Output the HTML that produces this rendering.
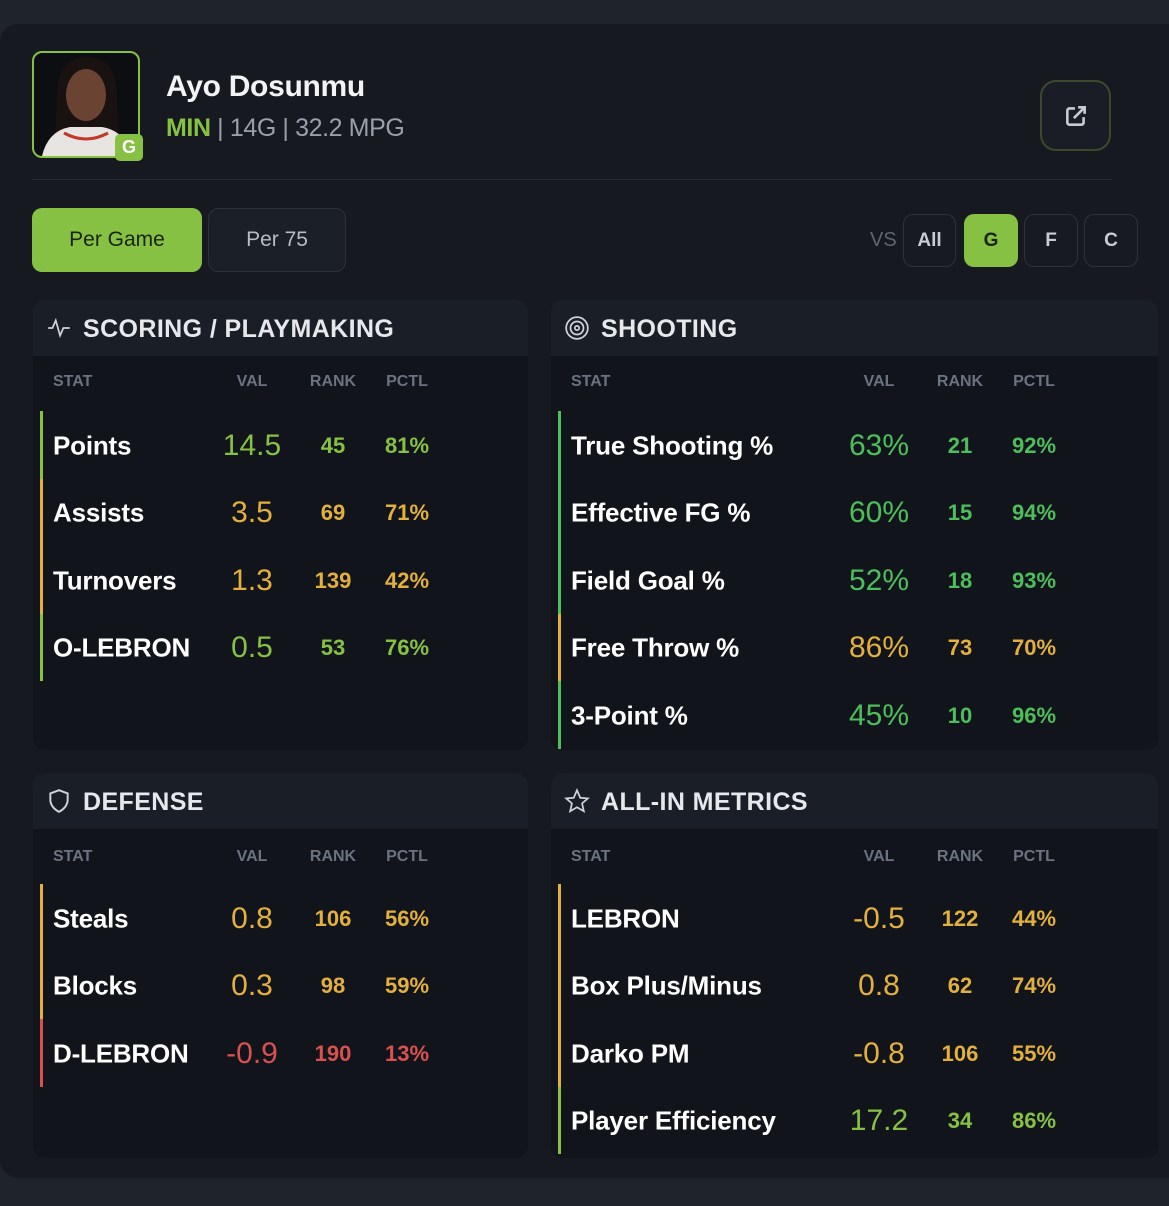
<!DOCTYPE html>
<html><head><meta charset="utf-8">
<style>
*{box-sizing:border-box;margin:0;padding:0}
body{width:1169px;height:1206px;background:#1f232b;font-family:"Liberation Sans",sans-serif;position:relative;overflow:hidden}
.abs{position:absolute}
#card{left:0;top:24px;width:1169px;height:1154px;background:#161920;border-radius:18px 0 0 18px}
.btn{border-radius:10px;display:flex;align-items:center;justify-content:center;font-size:21px}
.panel{background:#11141a;border-radius:12px;overflow:hidden}
.ph{position:absolute;left:0;top:0;right:0;height:56px;background:#1a1e27;color:#e6e8ec;font-weight:bold;font-size:25px;letter-spacing:0.4px;display:flex;align-items:center;padding-left:50px;padding-top:3px}
.ch{position:absolute;font-size:16px;font-weight:bold;color:#6b7280;transform:translateX(-50%)}
.lbl{position:absolute;font-size:26px;font-weight:bold;color:#fff;transform:translateY(-50%);letter-spacing:-0.2px}
.num{position:absolute;transform:translate(-50%,-50%);font-weight:bold;white-space:nowrap}
.bar{position:absolute;width:3px}
</style></head><body>
<div id="card" class="abs"></div>
<div class="abs" style="left:32px;top:51px;width:108px;height:107px;border:2px solid #86c144;border-radius:10px;overflow:hidden;background:#0d0e12">
<svg width="104" height="103" viewBox="0 0 104 103"><path d="M20 103 L24 30 Q30 4 52 4 Q76 4 82 30 L86 103Z" fill="#1a1210"/><ellipse cx="52" cy="42" rx="20" ry="26" fill="#6b4332"/><path d="M8 103 Q14 78 36 74 L68 74 Q92 78 96 103Z" fill="#e8e4e2"/><path d="M30 80 Q52 92 74 80" stroke="#c0392b" stroke-width="3" fill="none"/></svg>
</div>
<div class="abs btn" style="left:115px;top:134px;width:28px;height:27px;background:#86c144;color:#fff;font-weight:bold;font-size:18px;border-radius:5px">G</div>
<div class="abs" style="left:166px;top:70px;font-size:30px;font-weight:bold;color:#f2f3f5;letter-spacing:-0.3px">Ayo Dosunmu</div>
<div class="abs" style="left:166px;top:114px;font-size:25px;color:#9aa0aa;letter-spacing:-0.4px"><span style="color:#86c144;font-weight:bold">MIN</span> | 14G | 32.2 MPG</div>
<div class="abs btn" style="left:1040px;top:80px;width:71px;height:71px;border:2px solid #3b4a2c;border-radius:16px;background:#1a1d25">
<svg width="26" height="26" viewBox="0 0 24 24" fill="none" stroke="#c8ccd2" stroke-width="2.4"><path d="M11 5H6a2 2 0 0 0-2 2v11a2 2 0 0 0 2 2h11a2 2 0 0 0 2-2v-5"/><path d="M10 14L20 4M14 4h6v6"/></svg></div>
<div class="abs" style="left:32px;top:179px;width:1080px;height:1px;background:#272b35"></div>
<div class="abs btn" style="left:32px;top:208px;width:170px;height:64px;background:#86c144;color:#1a2410">Per Game</div>
<div class="abs btn" style="left:208px;top:208px;width:138px;height:64px;background:#1b1f28;border:1px solid #2c313c;color:#b8bcc4">Per 75</div>
<div class="abs" style="left:870px;top:229px;font-size:20px;color:#5f6570">VS</div>
<div class="abs btn" style="left:903px;top:214px;width:53px;height:53px;border:1px solid #2c313c;background:#171a21;color:#c8ccd2;font-size:19px;font-weight:bold">All</div>
<div class="abs btn" style="left:964px;top:214px;width:54px;height:53px;background:#86c144;color:#1a2410;font-size:19px;font-weight:bold">G</div>
<div class="abs btn" style="left:1024px;top:214px;width:54px;height:53px;border:1px solid #2c313c;background:#171a21;color:#c8ccd2;font-size:19px;font-weight:bold">F</div>
<div class="abs btn" style="left:1084px;top:214px;width:54px;height:53px;border:1px solid #2c313c;background:#171a21;color:#c8ccd2;font-size:19px;font-weight:bold">C</div>
<div id="panels"></div>
<script>
const panelTitles=["SCORING / PLAYMAKING","SHOOTING","DEFENSE","ALL-IN METRICS"];
const scoringStats=["Points","Assists","Turnovers","O-LEBRON"];
const scoringVals=["14.5","3.5","1.3","0.5"];
const scoringRanks=[45,69,139,53];
const scoringPctl=[81,71,42,76];
const shootingStats=["True Shooting %","Effective FG %","Field Goal %","Free Throw %","3-Point %"];
const shootingVals=["63%","60%","52%","86%","45%"];
const shootingRanks=[21,15,18,73,10];
const shootingPctl=[92,94,93,70,96];
const defenseStats=["Steals","Blocks","D-LEBRON"];
const defenseVals=["0.8","0.3","-0.9"];
const defenseRanks=[106,98,190];
const defensePctl=[56,59,13];
const allinStats=["LEBRON","Box Plus/Minus","Darko PM","Player Efficiency"];
const allinVals=["-0.5","0.8","-0.8","17.2"];
const allinRanks=[122,62,106,34];
const allinPctl=[44,74,55,86];

function colorFor(p){if(p>=90)return"#4cbf5c";if(p>=75)return"#86c144";if(p>=40)return"#e3b03e";return"#d9514f";}
const icons=[
'<svg width="26" height="26" viewBox="0 0 24 24" fill="none" stroke="#d0d3d8" stroke-width="1.6"><path d="M2 12h4l3-7 4 14 3-7h6"/></svg>',
'<svg width="26" height="26" viewBox="0 0 24 24" fill="none" stroke="#d0d3d8" stroke-width="1.6"><circle cx="12" cy="12" r="10"/><circle cx="12" cy="12" r="6"/><circle cx="12" cy="12" r="2"/></svg>',
'<svg width="26" height="26" viewBox="0 0 24 24" fill="none" stroke="#d0d3d8" stroke-width="1.8"><path d="M12 2l8 3v6c0 5-4 9-8 11-4-2-8-6-8-11V5z"/></svg>',
'<svg width="26" height="26" viewBox="0 0 24 24" fill="none" stroke="#d0d3d8" stroke-width="1.6"><path d="M12 2l3 7 7 .6-5.3 4.6 1.6 7.3L12 17.8 5.7 21.5l1.6-7.3L2 9.6 9 9z"/></svg>'];
const geo=[{x:33,y:300,w:495,h:450,cols:[252,333,407],hy:373},{x:551,y:300,w:607,h:450,cols:[879,960,1034],hy:373},{x:33,y:773,w:495,h:385,cols:[252,333,407],hy:848},{x:551,y:773,w:607,h:385,cols:[879,960,1034],hy:848}];
const data=[[scoringStats,scoringVals,scoringRanks,scoringPctl],[shootingStats,shootingVals,shootingRanks,shootingPctl],[defenseStats,defenseVals,defenseRanks,defensePctl],[allinStats,allinVals,allinRanks,allinPctl]];
const root=document.getElementById('panels');
const rowH=67.5;
geo.forEach((g,i)=>{
  const p=document.createElement('div');
  p.className='abs panel';
  
  
  p.style.cssText=`left:${g.x}px;top:${g.y}px;width:${g.w}px;height:${g.h}px`;
  p.innerHTML=`<div class="ph"><span style="position:absolute;left:13px;top:15px">${icons[i]}</span>${panelTitles[i]}</div>`;
  root.appendChild(p);
  const hdrs=[["STAT",null],["VAL",g.cols[0]],["RANK",g.cols[1]],["PCTL",g.cols[2]]];
  hdrs.forEach(h=>{
    const e=document.createElement('div');
    e.className='ch';
    
    
    e.textContent=h[0];
    if(h[1]===null){e.style.left=(g.x+20)+'px';e.style.transform='none';}else e.style.left=h[1]+'px';
    e.style.top=g.hy+'px';
    root.appendChild(e);
  });
  const [st,vals,ranks,pct]=data[i];
  const top0=g.y+111;
  st.forEach((s,k)=>{
    const cy=top0+rowH*k+rowH/2+1;
    const c=colorFor(pct[k]);
    const b=document.createElement('div');
    b.className='bar';
    
    
    b.style.cssText=`left:${g.x+7}px;top:${top0+rowH*k}px;height:${rowH}px;background:${c}`;
    root.appendChild(b);
    const l=document.createElement('div');
    l.className='lbl';
    
    
    l.textContent=s;l.style.left=(g.x+20)+'px';l.style.top=cy+'px';
    root.appendChild(l);
    [[vals[k],30,'stat-value',0],[ranks[k],22,'stat-rank',1],[pct[k]+'%',22,'stat-percentile',2]].forEach(v=>{
      const n=document.createElement('div');
      n.className='num';
      
      
      n.textContent=v[0];
      n.style.cssText=`left:${g.cols[v[3]]}px;top:${cy}px;font-size:${v[1]}px;color:${c};font-weight:${v[3]==0?'normal':'bold'}`;
      root.appendChild(n);
    });
  });
});
</script>
</body></html>
